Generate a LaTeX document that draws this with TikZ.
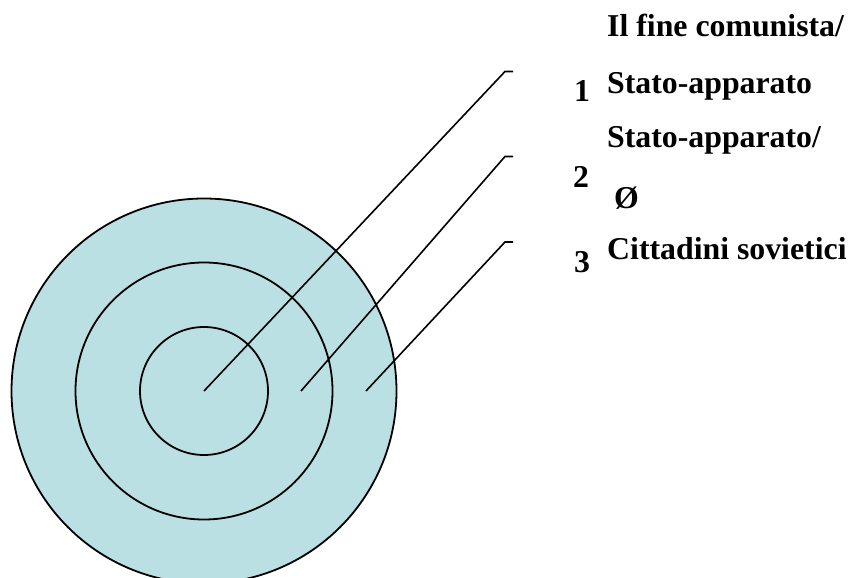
\documentclass[tikz,border=0pt]{standalone}
\usepackage{fontspec}
\setmainfont{Liberation Serif}
\definecolor{ringfill}{RGB}{187,224,227}
\begin{document}
\begin{tikzpicture}[x=1pt,y=-1pt,
  ring/.style={draw=black,line width=1.8pt,circle,inner sep=0pt},
  leader/.style={draw=black,line width=1.6pt},
  lbl/.style={anchor=base west,inner sep=0pt,font=\fontsize{31.8}{32}\selectfont\bfseries}]
\useasboundingbox (0,0) rectangle (852,578);
\begin{scope}
\clip (0,0) rectangle (852,578);
\node[ring,fill=ringfill,minimum size=385pt] (outer) at (204,391) {};
\node[ring,minimum size=257pt] (middle) at (204,391) {};
\node[ring,minimum size=128pt] (inner) at (204,391) {};
\end{scope}
\coordinate (s1) at (204,391);
\coordinate (s2) at (301,391);
\coordinate (s3) at (366,391);
\coordinate (c1) at (505,71.5);
\coordinate (c2) at (505,156.5);
\coordinate (c3) at (505,242);
\coordinate (e1) at (513,71.5);
\coordinate (e2) at (513,156.5);
\coordinate (e3) at (513,242);
\draw[leader] (s1) -- (c1) -- (e1);
\draw[leader] (s2) -- (c2) -- (e2);
\draw[leader] (s3) -- (c3) -- (e3);
\node[lbl] (t1a) at (607,37) {Il fine comunista/};
\node[lbl] (t1b) at (607,93) {Stato-apparato};
\node[lbl] (n1) at (574,102) {1};
\node[lbl] (t2a) at (607,147) {Stato-apparato/};
\node[lbl] (t2b) at (614,208) {Ø};
\node[lbl] (n2) at (573,187) {2};
\node[lbl] (t3) at (607,259) {Cittadini sovietici};
\node[lbl] (n3) at (574,272) {3};
\end{tikzpicture}
\end{document}
